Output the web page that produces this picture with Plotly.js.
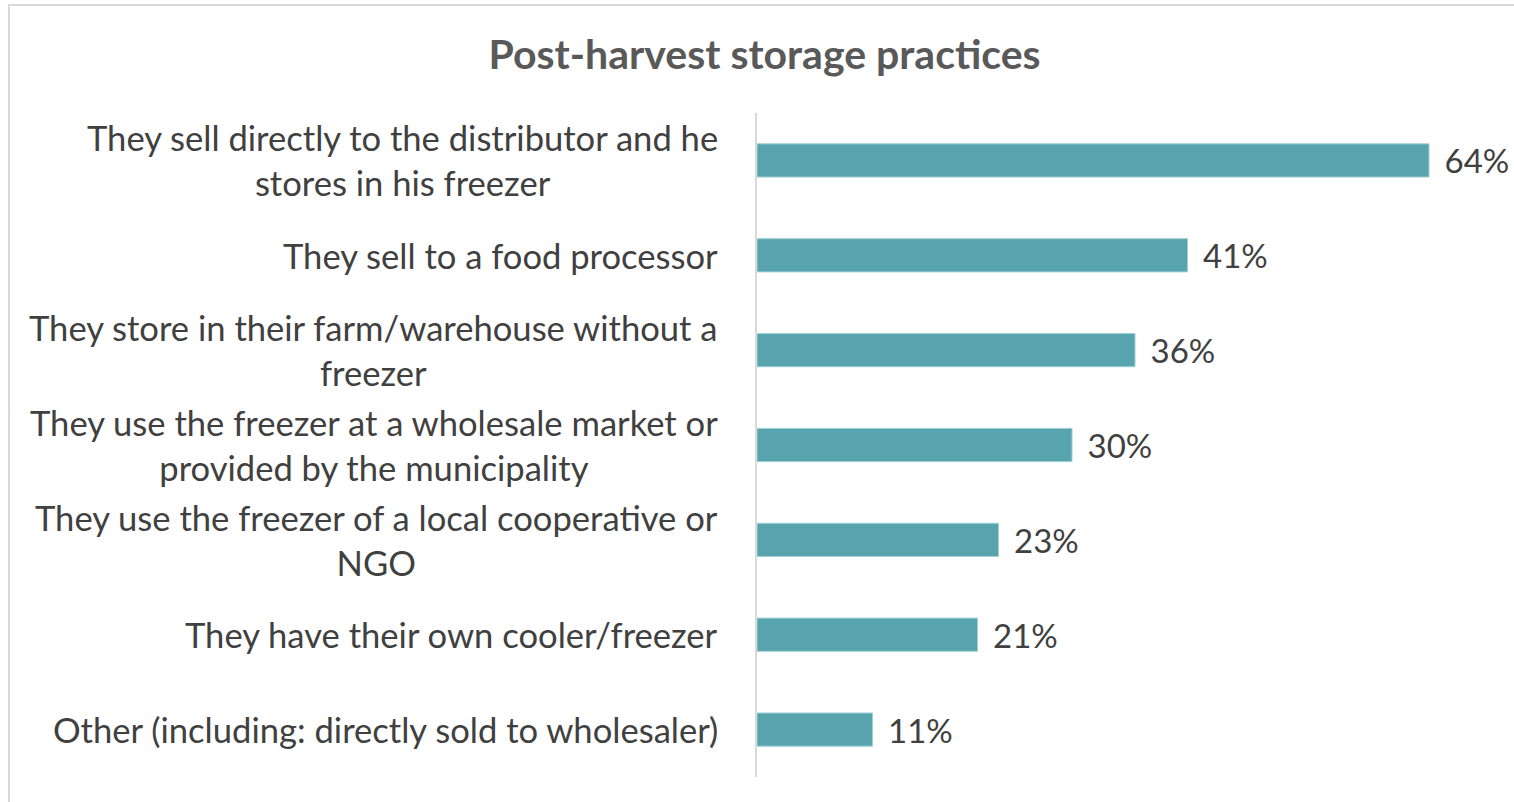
<!DOCTYPE html>
<html><head><meta charset="utf-8">
<script src="https://cdn.plot.ly/plotly-3.0.1.min.js"></script>
<style>
html,body{margin:0;padding:0;background:#fff;overflow:hidden;}
#chart{position:absolute;left:0;top:0;width:1514px;height:802px;}
#frame{position:absolute;left:8px;top:4px;width:1520px;height:820px;border:2px solid #d9d9d9;pointer-events:none;}
</style></head>
<body>
<div id="chart"></div>
<div id="frame"></div>
<script>
const categories = [
  "They sell directly to the distributor and he<br>stores in his freezer",
  "They sell to a food processor",
  "They store in their farm/warehouse without a<br>freezer",
  "They use the freezer at a wholesale market or<br>provided by the municipality",
  "They use the freezer of a local cooperative or<br>NGO",
  "They have their own cooler/freezer",
  "Other (including: directly sold to wholesaler)"
];
const values = [64, 41, 36, 30, 23, 21, 11];
const labels = values.map(v => "\u00a0\u2009" + v + "%");

const fontFam = "Lato, 'Open Sans', sans-serif";
const trace = {
  type: "bar",
  orientation: "h",
  y: categories,
  x: values,
  text: labels,
  textposition: "outside",
  constraintext: "none",
  cliponaxis: false,
  textfont: {family: fontFam, size: 33, color: "#404040"},
  marker: {color: "#58A4AE", line: {color: "#9fd0d6", width: 1}},
  hoverinfo: "skip"
};
const plotW = 1514 - 757 - 22;
const annotations = categories.map(c => ({
  xref: "paper", yref: "y", x: -37 / plotW, y: c,
  xanchor: "right", yanchor: "middle", align: "center",
  text: c, showarrow: false,
  font: {family: fontFam, size: 34.6, color: "#404040"}
}));
const layout = {
  width: 1514, height: 802,
  paper_bgcolor: "#fff", plot_bgcolor: "#fff",
  margin: {l: 757, r: 22, t: 113, b: 25},
  title: {text: "<b>Post-harvest storage practices</b>", x: 0.505, xanchor: "center", y: 0.932, yanchor: "middle",
          font: {family: fontFam, size: 41, color: "#595959"}},
  bargap: 0.65,
  showlegend: false,
  annotations: annotations,
  xaxis: {range: [0, 70], visible: false, fixedrange: true},
  yaxis: {autorange: "reversed", showline: true, linecolor: "#d9d9d9", linewidth: 2,
          ticks: "", showgrid: false, zeroline: false, showticklabels: false}
};
Plotly.newPlot("chart", [trace], layout, {displayModeBar: false, staticPlot: true});
</script>
</body></html>
